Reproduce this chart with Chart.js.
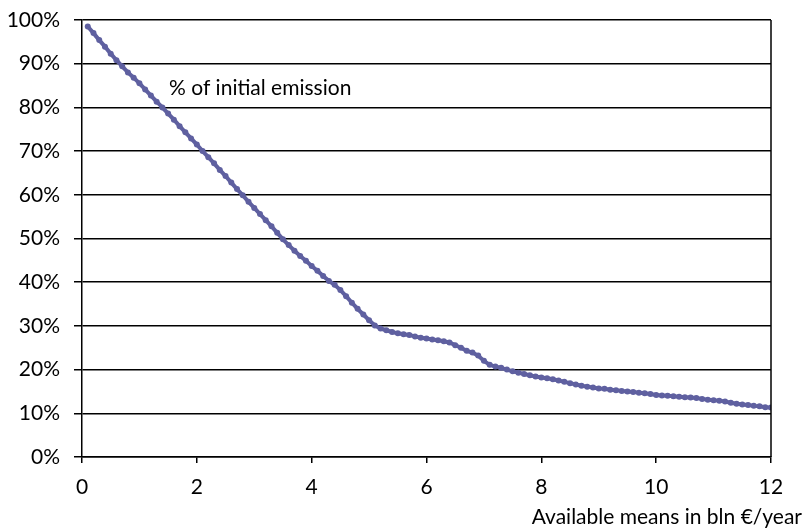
<!DOCTYPE html>
<html>
<head>
<meta charset="utf-8">
<script src="https://cdn.jsdelivr.net/npm/chart.js@4.4.1/dist/chart.umd.min.js"></script>
<style>
  html, body { margin: 0; padding: 0; background: #fff; }
  #wrap { width: 806px; height: 529px; position: relative; }
</style>
</head>
<body>
<div id="wrap"><canvas id="emissionChart" width="806" height="529"></canvas></div>
<script>
// available means (bln EUR/year)
const means = [
  0.1, 0.2, 0.3, 0.4, 0.5, 0.6, 0.7, 0.8, 0.9, 1.0,
  1.1, 1.2, 1.3, 1.4, 1.5, 1.6, 1.7, 1.8, 1.9, 2.0,
  2.1, 2.2, 2.3, 2.4, 2.5, 2.6, 2.7, 2.8, 2.9, 3.0,
  3.1, 3.2, 3.3, 3.4, 3.5, 3.6, 3.7, 3.8, 3.9, 4.0,
  4.1, 4.2, 4.3, 4.4, 4.5, 4.6, 4.7, 4.8, 4.9, 5.0,
  5.1, 5.2, 5.3, 5.4, 5.5, 5.6, 5.7, 5.8, 5.9, 6.0,
  6.1, 6.2, 6.3, 6.4, 6.5, 6.6, 6.7, 6.8, 6.9, 7.0,
  7.1, 7.2, 7.3, 7.4, 7.5, 7.6, 7.7, 7.8, 7.9, 8.0,
  8.1, 8.2, 8.3, 8.4, 8.5, 8.6, 8.7, 8.8, 8.9, 9.0,
  9.1, 9.2, 9.3, 9.4, 9.5, 9.6, 9.7, 9.8, 9.9, 10.0,
  10.1, 10.2, 10.3, 10.4, 10.5, 10.6, 10.7, 10.8, 10.9, 11.0,
  11.1, 11.2, 11.3, 11.4, 11.5, 11.6, 11.7, 11.8, 11.9, 12.0
];

// % of initial emission
const emission = [
  98.5, 97.0, 95.4, 93.9, 92.3, 90.8, 89.4, 88.0, 86.8, 85.5,
  84.1, 82.7, 81.3, 80.0, 78.6, 77.2, 75.7, 74.3, 72.9, 71.5,
  70.0, 68.6, 67.2, 65.7, 64.3, 62.8, 61.3, 59.9, 58.4, 57.0,
  55.6, 54.2, 52.8, 51.3, 49.8, 48.5, 47.2, 46.0, 44.9, 43.7,
  42.6, 41.4, 40.3, 39.4, 38.2, 36.8, 35.3, 33.9, 32.6, 31.3,
  30.1, 29.4, 29.0, 28.6, 28.3, 28.1, 27.9, 27.6, 27.3, 27.1,
  26.9, 26.7, 26.5, 26.2, 25.6, 25.0, 24.3, 23.9, 23.2, 22.0,
  21.1, 20.7, 20.4, 20.0, 19.6, 19.3, 19.0, 18.7, 18.4, 18.2,
  18.0, 17.8, 17.5, 17.2, 16.9, 16.6, 16.3, 16.1, 15.9, 15.7,
  15.6, 15.4, 15.3, 15.1, 15.0, 14.9, 14.7, 14.6, 14.4, 14.2,
  14.1, 14.0, 13.9, 13.8, 13.7, 13.6, 13.5, 13.3, 13.1, 13.0,
  12.9, 12.7, 12.4, 12.2, 12.0, 11.9, 11.7, 11.6, 11.4, 11.3
];

const LINE_COLOR = '#5f60a0';
const FONT = 'Lato, "Open Sans", sans-serif';
const FONT_SIZE = 21;

// right border + texts
const extras = {
  id: 'extras',
  afterDraw(chart) {
    const { ctx, chartArea } = chart;
    ctx.save();
    ctx.strokeStyle = '#000';
    ctx.lineWidth = 1.5;
    ctx.beginPath();
    ctx.moveTo(chartArea.right, chartArea.top);
    ctx.lineTo(chartArea.right, chartArea.bottom);
    ctx.stroke();
    ctx.fillStyle = '#000';
    ctx.font = FONT_SIZE + 'px ' + FONT;
    ctx.textBaseline = 'middle';
    ctx.textAlign = 'left';
    ctx.fillText('% of initial emission', 169, 88);
    ctx.textAlign = 'right';
    ctx.fillText('Available means in bln €/year', 802, 517);
    ctx.restore();
  }
};

new Chart(document.getElementById('emissionChart').getContext('2d'), {
  type: 'line',
  data: {
    datasets: [{
      data: means.map((m, i) => ({ x: m, y: emission[i] })),
      borderColor: LINE_COLOR,
      backgroundColor: LINE_COLOR,
      borderWidth: 4,
      pointRadius: 3,
      pointBorderWidth: 0,
      tension: 0
    }]
  },
  options: {
    responsive: false,
    animation: false,
    layout: { padding: { left: 0, top: 20, right: 35, bottom: 0 } },
    plugins: { legend: { display: false }, tooltip: { enabled: false } },
    scales: {
      x: {
        type: 'linear', min: 0, max: 12,
        afterFit: s => { s.height = 72; s.paddingLeft = 0; s.paddingRight = 0; },
        border: { color: '#000', width: 1.5 },
        grid: { drawOnChartArea: false, drawTicks: true, tickLength: 6, color: '#000', lineWidth: 1.5 },
        ticks: { stepSize: 2, color: '#000', padding: 12, font: { size: FONT_SIZE, family: FONT } }
      },
      y: {
        min: 0, max: 100,
        afterFit: s => { s.width = 82; s.paddingTop = 0; s.paddingBottom = 0; },
        border: { color: '#000', width: 1.5 },
        grid: { color: '#000', lineWidth: 1.5, tickLength: 8 },
        ticks: { stepSize: 10, color: '#000', padding: 14, font: { size: FONT_SIZE, family: FONT }, callback: v => v + '%' }
      }
    }
  },
  plugins: [extras]
});
</script>
</body>
</html>
